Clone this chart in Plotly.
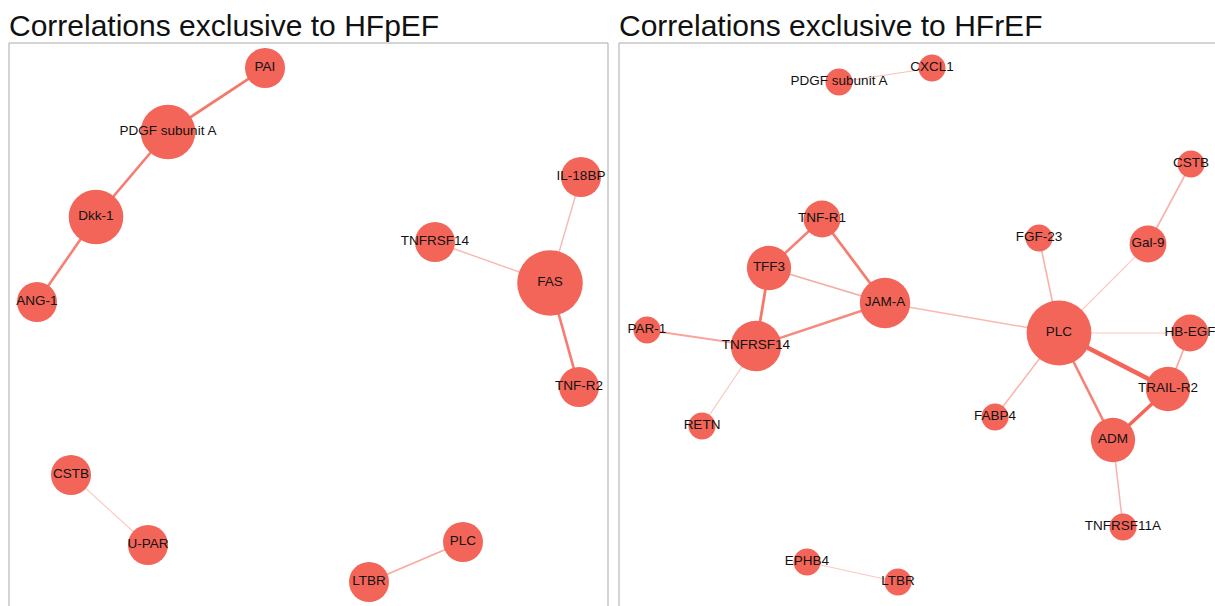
import plotly.graph_objects as go

# ---------------- data ----------------
panel_titles = ["Correlations exclusive to HFpEF", "Correlations exclusive to HFrEF"]

# HFpEF network: node names and layout coordinates
pef_nodes = ["PAI", "PDGF subunit A", "Dkk-1", "ANG-1", "IL-18BP", "TNFRSF14",
             "FAS", "TNF-R2", "CSTB", "U-PAR", "PLC", "LTBR"]
pef_x = [256, 159, 87, 28, 572, 426, 541, 570, 62, 139, 454, 360]
pef_y = [25, 89, 174, 259, 134, 199, 240, 344, 432, 502, 499, 539]
pef_src = ["PAI", "PDGF subunit A", "Dkk-1", "IL-18BP", "TNFRSF14", "FAS", "CSTB", "PLC"]
pef_dst = ["PDGF subunit A", "Dkk-1", "ANG-1", "FAS", "FAS", "TNF-R2", "U-PAR", "LTBR"]
pef_w = [0.56, 0.55, 0.54, 0.40, 0.40, 0.55, 0.36, 0.44]

# HFrEF network
ref_nodes = ["PDGF subunit A", "CXCL1", "CSTB", "TNF-R1", "FGF-23", "Gal-9", "TFF3",
             "JAM-A", "PAR-1", "TNFRSF14", "PLC", "HB-EGF", "TRAIL-R2", "FABP4",
             "RETN", "ADM", "TNFRSF11A", "EPHB4", "LTBR"]
ref_x = [220, 313, 572, 203, 420, 529, 150, 266, 28, 137, 440, 571, 549, 376,
         83, 494, 504, 188, 279]
ref_y = [39, 25, 121, 176, 195, 201, 225, 260, 287, 303, 290, 290, 346, 374,
         383, 397, 484, 519, 539]
ref_src = ["PDGF subunit A", "CSTB", "TNF-R1", "TNF-R1", "TFF3", "TFF3", "JAM-A",
           "PAR-1", "TNFRSF14", "JAM-A", "FGF-23", "Gal-9", "PLC", "PLC", "PLC",
           "PLC", "HB-EGF", "TRAIL-R2", "ADM", "EPHB4"]
ref_dst = ["CXCL1", "Gal-9", "TFF3", "JAM-A", "JAM-A", "TNFRSF14", "TNFRSF14",
           "TNFRSF14", "RETN", "PLC", "PLC", "PLC", "HB-EGF", "TRAIL-R2", "ADM",
           "FABP4", "TRAIL-R2", "ADM", "TNFRSF11A", "LTBR"]
ref_w = [0.38, 0.42, 0.54, 0.55, 0.44, 0.56, 0.52, 0.45, 0.37, 0.40, 0.42, 0.36,
         0.37, 0.78, 0.54, 0.41, 0.44, 0.64, 0.41, 0.36]

# ---------------- styling ----------------
W, H = 1215, 606
NODE_RGB = (243, 101, 88)
NODE_COLOR = "rgb(%d,%d,%d)" % NODE_RGB
BORDER = "#aaaaaa"
FONT = "Liberation Sans, Arial, Helvetica, sans-serif"

# panel frames in pixels: left, right, top (right panel's frame runs past the page edge)
panels = [
    dict(left=9, right=608, top=43, base=40),
    dict(left=619, right=1225, top=43, base=27),
]
networks = [
    (pef_nodes, pef_x, pef_y, pef_src, pef_dst, pef_w),
    (ref_nodes, ref_x, ref_y, ref_src, ref_dst, ref_w),
]


def edge_width(w):
    return 1.0 + 8.5 * (w - 0.35)


def edge_alpha(w):
    return max(0.25, min(1.0, 0.33 + 2.6 * (w - 0.35)))


fig = go.Figure()
shapes = []
annotations = []

for i, (p, net) in enumerate(zip(panels, networks)):
    nodes, xs, ys, src, dst, ws = net
    ax = "" if i == 0 else str(i + 1)
    xref, yref = "x" + ax, "y" + ax
    pos = {n: (x, y) for n, x, y in zip(nodes, xs, ys)}
    deg = {n: 0 for n in nodes}
    for a, b in zip(src, dst):
        deg[a] += 1
        deg[b] += 1

    for a, b, w in zip(src, dst, ws):
        fig.add_trace(go.Scatter(
            x=[pos[a][0], pos[b][0]], y=[pos[a][1], pos[b][1]],
            mode="lines", xaxis=xref, yaxis=yref, hoverinfo="skip",
            line=dict(color="rgba(%d,%d,%d,%.2f)" % (NODE_RGB + (edge_alpha(w),)),
                      width=edge_width(w)),
            showlegend=False,
        ))

    fig.add_trace(go.Scatter(
        x=xs, y=ys, text=nodes, mode="markers+text", textposition="middle center",
        xaxis=xref, yaxis=yref, cliponaxis=False,
        marker=dict(color=NODE_COLOR, opacity=1,
                    size=[p["base"] * deg[n] ** 0.45 for n in nodes],
                    line=dict(width=0)),
        textfont=dict(family=FONT, size=13.5, color="#111111"),
        hovertext=nodes, hoverinfo="text", showlegend=False,
    ))

    x0 = p["left"] / W
    x1 = min(p["right"] / W, 1.0)
    ytop = 1 - p["top"] / H
    fig.update_layout(**{
        "xaxis" + ax: dict(domain=[x0, x1], range=[0, x1 * W - p["left"]],
                           visible=False, fixedrange=True),
        "yaxis" + ax: dict(domain=[0, ytop], range=[H - p["top"], 0],
                           visible=False, fixedrange=True),
    })
    shapes.append(dict(type="rect", xref="paper", yref="paper",
                       x0=x0, x1=p["right"] / W, y0=-0.1, y1=ytop,
                       line=dict(color=BORDER, width=1), fillcolor="rgba(0,0,0,0)",
                       layer="below"))
    annotations.append(dict(text=panel_titles[i], xref="paper", yref="paper",
                            x=(p["left"] - 2) / W, y=1 - 25.5 / H,
                            xanchor="left", yanchor="middle", showarrow=False,
                            font=dict(family=FONT, size=30, color="#111111")))

fig.update_layout(
    width=W, height=H, margin=dict(l=0, r=0, t=0, b=0),
    paper_bgcolor="white", plot_bgcolor="white",
    shapes=shapes, annotations=annotations, showlegend=False,
)

fig.write_html(
    "out.html",
    config={"displayModeBar": False},
    post_script="document.body.style.margin='0';document.body.style.overflow='hidden';",
)
